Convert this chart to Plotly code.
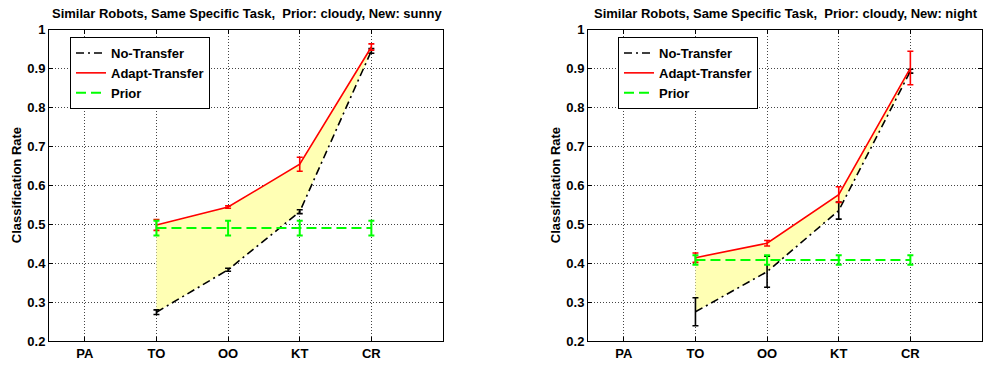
import plotly.graph_objects as go

# ---------------- data ----------------
categories = ["PA", "TO", "OO", "KT", "CR"]
points = ["TO", "OO", "KT", "CR"]
ytick_vals = [0.2, 0.3, 0.4, 0.5, 0.6, 0.7, 0.8, 0.9, 1.0]
ytick_text = ["0.2", "0.3", "0.4", "0.5", "0.6", "0.7", "0.8", "0.9", "1"]

titles = ["Similar Robots, Same Specific Task,  Prior: cloudy, New: sunny",
          "Similar Robots, Same Specific Task,  Prior: cloudy, New: night"]

# left panel (sunny)
sunny_no_transfer = [0.274, 0.383, 0.532, 0.945]
sunny_no_transfer_err = [0.006, 0.004, 0.005, 0.006]
sunny_adapt = [0.498, 0.544, 0.654, 0.955]
sunny_adapt_err = [0.014, 0.003, 0.018, 0.008]
sunny_prior = [0.49, 0.49, 0.49, 0.49]
sunny_prior_err = [0.019, 0.019, 0.019, 0.019]

# right panel (night)
night_no_transfer = [0.275, 0.378, 0.535, 0.893]
night_no_transfer_err = [0.036, 0.040, 0.022, 0.005]
night_adapt = [0.414, 0.451, 0.576, 0.901]
night_adapt_err = [0.012, 0.007, 0.020, 0.043]
night_prior = [0.408, 0.408, 0.408, 0.408]
night_prior_err = [0.012, 0.012, 0.012, 0.012]

series_labels = ["No-Transfer", "Adapt-Transfer", "Prior"]

# ---------------- style ----------------
FONT = "Liberation Sans"
W, H = 983, 369
fill_color = "#FFFFB4"
black_dash = "8px,4px,2px,4px"
green_dash = "10px,5px"

panels = [
    dict(nt=sunny_no_transfer, nte=sunny_no_transfer_err, ad=sunny_adapt, ade=sunny_adapt_err,
         pr=sunny_prior, pre=sunny_prior_err, xa="x", ya="y", legend="legend"),
    dict(nt=night_no_transfer, nte=night_no_transfer_err, ad=night_adapt, ade=night_adapt_err,
         pr=night_prior, pre=night_prior_err, xa="x2", ya="y2", legend="legend2"),
]

fig = go.Figure()
for p in panels:
    # fill between no-transfer and adapt-transfer
    fig.add_trace(go.Scatter(x=points, y=p["nt"], mode="lines", line=dict(width=0),
                             showlegend=False, hoverinfo="skip", xaxis=p["xa"], yaxis=p["ya"]))
    fig.add_trace(go.Scatter(x=points, y=p["ad"], mode="lines", line=dict(width=0),
                             fill="tonexty", fillcolor=fill_color,
                             showlegend=False, hoverinfo="skip", xaxis=p["xa"], yaxis=p["ya"]))
    # no transfer
    fig.add_trace(go.Scatter(x=points, y=p["nt"], mode="lines", name=series_labels[0],
                             line=dict(color="black", width=1.6, dash=black_dash),
                             error_y=dict(type="data", array=p["nte"], color="black",
                                          thickness=1.6, width=3),
                             legend=p["legend"], xaxis=p["xa"], yaxis=p["ya"]))
    # adapt transfer
    fig.add_trace(go.Scatter(x=points, y=p["ad"], mode="lines", name=series_labels[1],
                             line=dict(color="#FF0000", width=1.6),
                             error_y=dict(type="data", array=p["ade"], color="#FF0000",
                                          thickness=1.6, width=3),
                             legend=p["legend"], xaxis=p["xa"], yaxis=p["ya"]))
    # prior
    fig.add_trace(go.Scatter(x=points, y=p["pr"], mode="lines", name=series_labels[2],
                             line=dict(color="#00FF00", width=2, dash=green_dash),
                             error_y=dict(type="data", array=p["pre"], color="#00FF00",
                                          thickness=2, width=3),
                             legend=p["legend"], xaxis=p["xa"], yaxis=p["ya"]))

tickfont = dict(family=FONT, size=13, color="black", weight="bold")
xcommon = dict(type="category", categoryorder="array", categoryarray=categories,
               range=[-0.5, 5.0], showline=True, linecolor="black", linewidth=1, mirror="ticks",
               ticks="inside", ticklen=4, tickcolor="black", showgrid=True, gridcolor="#444",
               griddash="1px,2px", gridwidth=1, tickfont=tickfont, zeroline=False, fixedrange=True)
ycommon = dict(range=[0.2, 1.0], tickvals=ytick_vals, ticktext=ytick_text,
               showline=True, linecolor="black", linewidth=1, mirror="ticks",
               ticks="inside", ticklen=4, tickcolor="black", showgrid=True, gridcolor="#444",
               griddash="1px,2px", gridwidth=1, tickfont=tickfont, zeroline=False, fixedrange=True)

xl0, xl1 = 49 / W, 443 / W
xr0, xr1 = 588 / W, 982 / W
y0, y1 = (H - 341) / H, (H - 29.5) / H

legfont = dict(family=FONT, size=13, color="black", weight="bold")
fig.update_layout(
    width=W, height=H,
    margin=dict(l=0, r=0, t=0, b=0, autoexpand=False),
    paper_bgcolor="white", plot_bgcolor="white",
    xaxis=dict(domain=[xl0, xl1], anchor="y", **xcommon),
    yaxis=dict(domain=[y0, y1], anchor="x", **ycommon),
    xaxis2=dict(domain=[xr0, xr1], anchor="y2", **xcommon),
    yaxis2=dict(domain=[y0, y1], anchor="x2", **ycommon),
    legend=dict(x=70 / W, y=(H - 37) / H, xanchor="left", yanchor="top", bgcolor="white",
                bordercolor="black", borderwidth=1, font=legfont, tracegroupgap=0,
                traceorder="normal"),
    legend2=dict(x=618 / W, y=(H - 37) / H, xanchor="left", yanchor="top", bgcolor="white",
                 bordercolor="black", borderwidth=1, font=legfont, tracegroupgap=0,
                 traceorder="normal"),
    showlegend=True,
)

annfont = dict(family=FONT, size=13, color="black", weight="bold")
fig.add_annotation(text=titles[0], x=50 / W, y=(H - 14) / H, xref="paper", yref="paper",
                   showarrow=False, xanchor="left", yanchor="middle", font=annfont)
fig.add_annotation(text=titles[1], x=592 / W, y=(H - 14) / H, xref="paper", yref="paper",
                   showarrow=False, xanchor="left", yanchor="middle", font=annfont)
fig.add_annotation(text="Classification Rate", x=16 / W, y=(y0 + y1) / 2, xref="paper", yref="paper",
                   showarrow=False, xanchor="center", yanchor="middle", textangle=-90, font=annfont)
fig.add_annotation(text="Classification Rate", x=555 / W, y=(y0 + y1) / 2, xref="paper", yref="paper",
                   showarrow=False, xanchor="center", yanchor="middle", textangle=-90, font=annfont)

fig.write_html("out.html", config={"displayModeBar": False},
               post_script="document.body.style.margin='0';document.body.style.padding='0';")
